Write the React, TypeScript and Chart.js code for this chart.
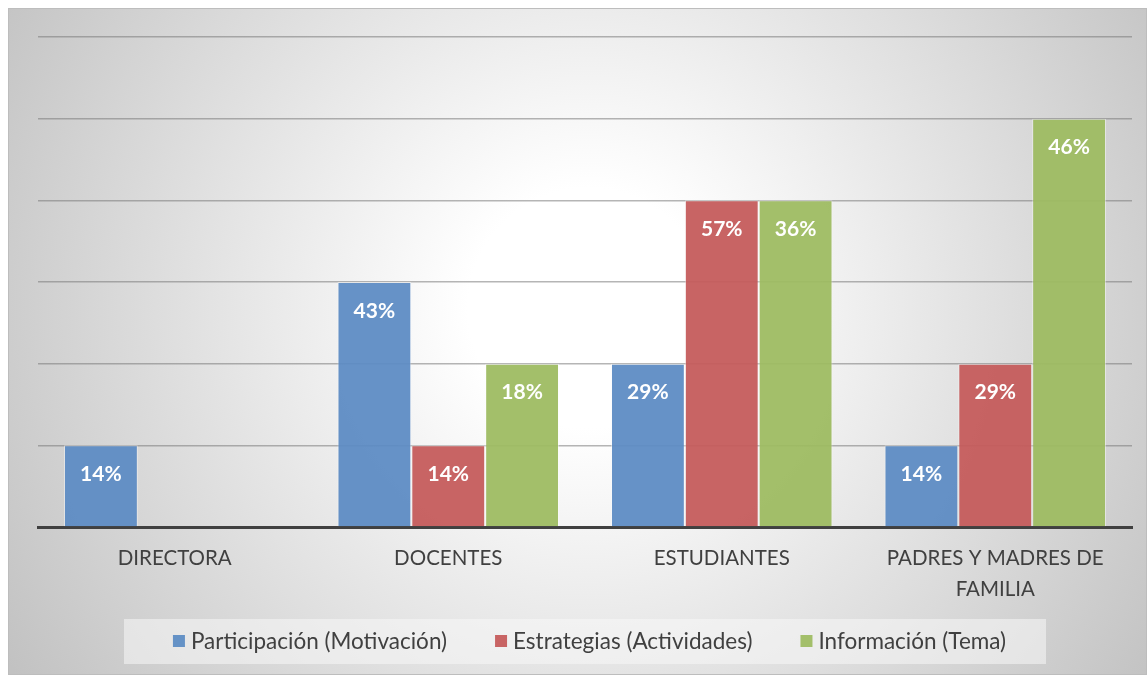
import React, { useEffect, useRef } from "react";
import { Chart, registerables } from "chart.js";

Chart.register(...registerables);

const categories: (string | string[])[] = [
  "DIRECTORA",
  "DOCENTES",
  "ESTUDIANTES",
  ["PADRES Y MADRES DE", "FAMILIA"],
];
const seriesNames = [
  "Participación (Motivación)",
  "Estrategias (Actividades)",
  "Información (Tema)",
];
const participacion = [1, 3, 2, 1];
const estrategias = [0, 1, 4, 2];
const informacion = [0, 2, 4, 5];
const participacionLabels = ["14%", "43%", "29%", "14%"];
const estrategiasLabels = ["", "14%", "57%", "29%"];
const informacionLabels = ["", "18%", "36%", "46%"];
const yTicks = [0, 1, 2, 3, 4, 5, 6];

const colors = ["rgba(92,139,196,0.94)", "rgba(197,90,90,0.94)", "rgba(157,187,97,0.94)"];
const legendColors = ["#6592C6", "#C86464", "#A3BF6A"];
const FONT = "Lato, 'Open Sans', sans-serif";

const bgPlugin = {
  id: "bg",
  beforeDraw(chart: any) {
    const { ctx, width, height } = chart;
    ctx.save();
    const g = ctx.createRadialGradient(580, 300, 120, 580, 300, 680);
    g.addColorStop(0, "#ffffff");
    g.addColorStop(1, "#c2c2c2");
    ctx.fillStyle = g;
    ctx.fillRect(0, 0, width, height);
    ctx.strokeStyle = "#bdbdbd";
    ctx.lineWidth = 1;
    ctx.strokeRect(0.5, 0.5, width - 1, height - 1);
    ctx.restore();
  },
};

const labelPlugin = {
  id: "barLabels",
  afterDatasetsDraw(chart: any) {
    const { ctx } = chart;
    const labelSets = [participacionLabels, estrategiasLabels, informacionLabels];
    ctx.save();
    ctx.font = `bold 21px ${FONT}`;
    ctx.fillStyle = "#ffffff";
    ctx.textAlign = "center";
    ctx.textBaseline = "middle";
    chart.data.datasets.forEach((ds: any, di: number) => {
      const meta = chart.getDatasetMeta(di);
      meta.data.forEach((bar: any, i: number) => {
        const txt = labelSets[di][i];
        if (!txt) return;
        ctx.fillText(txt, bar.x, bar.y + 29);
      });
    });
    ctx.restore();
  },
};

const legendPlugin = {
  id: "customLegend",
  afterDraw(chart: any) {
    const { ctx, chartArea } = chart;
    ctx.save();
    ctx.font = `22.5px ${FONT}`;
    const box = 12;
    const gapBoxText = 6;
    const gapItems = 48;
    const widths = chart.data.datasets.map((d: any) => ctx.measureText(d.label).width);
    const total =
      widths.reduce((a: number, b: number) => a + b, 0) +
      widths.length * (box + gapBoxText) +
      (widths.length - 1) * gapItems;
    const cx = (chartArea.left + chartArea.right) / 2;
    const cy = 633;
    // legend background
    ctx.fillStyle = "rgba(248,248,248,0.55)";
    ctx.fillRect(cx - 461, cy - 22, 922, 45);
    let x = cx + 4.5 - total / 2;
    ctx.textBaseline = "middle";
    ctx.textAlign = "left";
    chart.data.datasets.forEach((d: any, i: number) => {
      ctx.fillStyle = legendColors[i];
      ctx.fillRect(x, cy - 6, box, box);
      x += box + gapBoxText;
      ctx.fillStyle = "#404040";
      ctx.fillText(d.label, x, cy + 1);
      x += widths[i] + gapItems;
    });
    ctx.restore();
  },
};

export default function App() {
  const ref = useRef<HTMLCanvasElement>(null);
  useEffect(() => {
    if (!ref.current) return;
    const chart = new Chart(ref.current, {
      type: "bar",
      data: {
        labels: categories,
        datasets: [participacion, estrategias, informacion].map((vals, i) => ({
          label: seriesNames[i],
          data: vals,
          backgroundColor: colors[i],
          borderColor: "rgba(255,255,255,0.45)",
          borderWidth: 1,
          categoryPercentage: 0.81,
          barPercentage: 1,
        })),
      },
      options: {
        animation: false,
        responsive: false,
        maintainAspectRatio: false,
        layout: { padding: { left: 30, right: 15, top: 29, bottom: 58 } },
        plugins: {
          legend: { display: false },
          tooltip: { enabled: false },
          title: { display: false },
        },
        scales: {
          x: {
            z: 1,
            grid: { display: false, drawTicks: false },
            border: { display: true, color: "#404040", width: 3 },
            ticks: {
              color: "#404040",
              font: { family: FONT, size: 20.5, lineHeight: 1.5 },
              padding: 16,
              maxRotation: 0,
              autoSkip: false,
            },
            afterFit: (s: any) => {
              s.height = 90;
            },
          },
          y: {
            min: yTicks[0],
            max: yTicks[yTicks.length - 1],
            afterBuildTicks: (s: any) => {
              s.ticks = yTicks.map((v) => ({ value: v }));
            },
            grid: {
              color: "rgba(120,120,120,0.55)",
              lineWidth: 1.5,
              drawTicks: false,
            },
            border: { display: false },
            ticks: { display: false },
            afterFit: (s: any) => {
              s.width = 0;
            },
          },
        },
      },
      plugins: [bgPlugin, labelPlugin, legendPlugin],
    });
    return () => chart.destroy();
  }, []);
  return (
    <div style={{ position: "fixed", left: 8, top: 8, width: 1139, height: 667 }}>
      <canvas ref={ref} width={1139} height={667} style={{ width: 1139, height: 667 }} />
    </div>
  );
}
